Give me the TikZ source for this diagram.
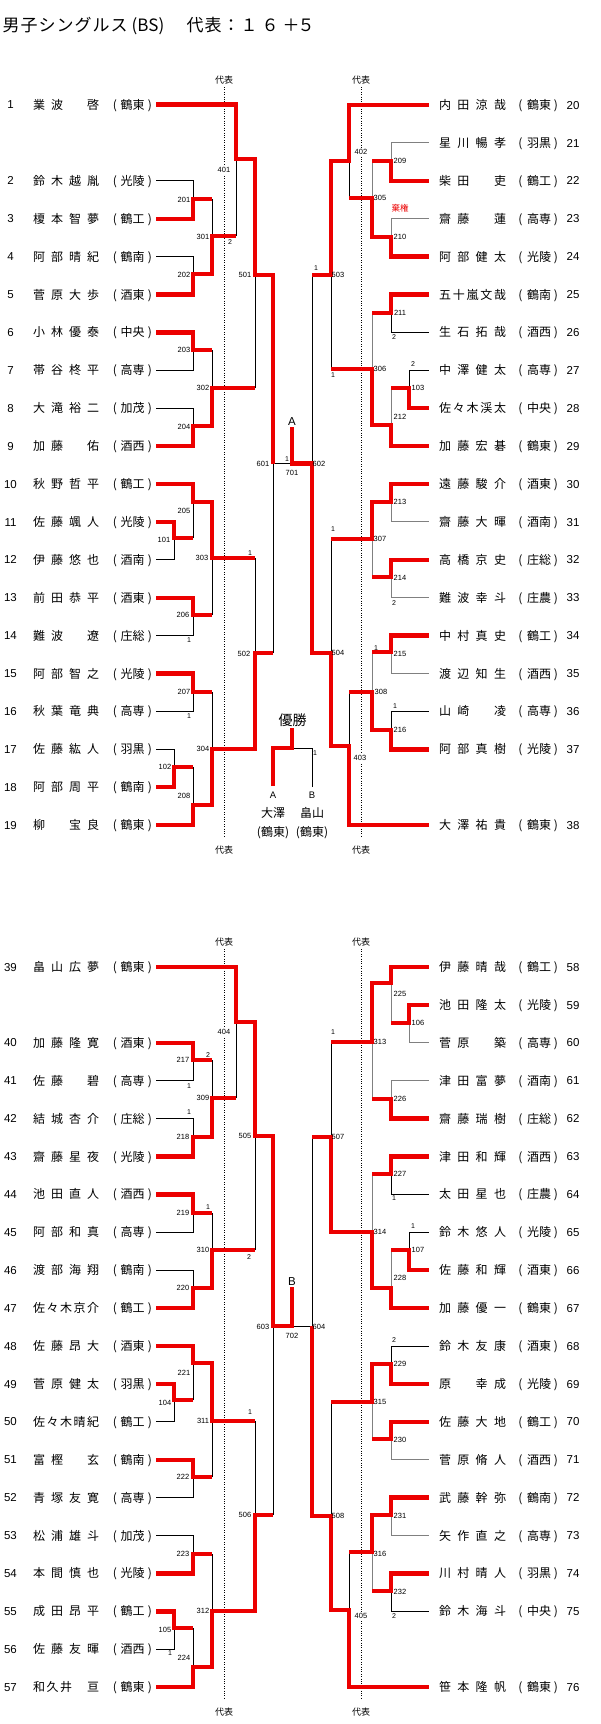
\documentclass[tikz,border=0pt]{standalone}
\usepackage{fontspec}
\setmainfont{Liberation Sans}
\newfontfamily\jp{Noto Sans CJK JP}
\definecolor{wred}{RGB}{236,0,0}
\definecolor{lgray}{RGB}{128,128,128}
\tikzset{
  win/.style={draw=wred,line width=4.4pt,line join=miter},
  ls/.style={draw=black,line width=0.9pt},
  lg/.style={draw=lgray,line width=0.9pt},
  dotv/.style={draw=black,line width=0.8pt,dash pattern=on 0.8pt off 1.6pt},
  nm/.style={font=\jp\fontsize{12}{12}\selectfont,inner sep=0pt,text height=10.56pt,text depth=1.44pt},
  pnum/.style={font=\fontsize{11.5}{12}\selectfont,inner sep=0pt,text height=8.2pt,text depth=0pt},
  mlab/.style={font=\fontsize{7.5}{8}\selectfont,inner sep=0.5pt,text height=5.4pt,text depth=0pt},
  wlab/.style={mlab,fill=white,inner sep=1.2pt},
  slab/.style={font=\fontsize{7}{8}\selectfont,inner sep=0pt,text height=5pt,text depth=0pt},
  dh/.style={font=\jp\fontsize{9}{9}\selectfont,inner sep=0pt,text height=7.9pt,text depth=1.1pt},
  ab/.style={font=\fontsize{11.5}{12}\selectfont,inner sep=0pt,text height=8.2pt,text depth=0pt},
  fab/.style={font=\fontsize{9.5}{10}\selectfont,inner sep=0pt,text height=6.8pt,text depth=0pt},
  fnm/.style={font=\jp\fontsize{12}{12}\selectfont,inner sep=0pt,text height=10.56pt,text depth=1.44pt},
  tch/.style={font=\jp\fontsize{17}{17}\selectfont,inner sep=0pt,text height=14.96pt,text depth=2.04pt},
}
\newcommand{\Lp}[5]{%
  \node[pnum] (num#1) at (10.5,#2) {#1};
  \foreach \c [count=\k] in {#4} {%
    \pgfmathsetmacro\pxx{39+(\k-1)*54/(#3-1)}%
    \node[nm] (n#1-\k) at (\pxx,#2) {\c};
  }%
  \node[nm] (lpa#1) at (115,#2) {(};
  \node[nm] (cl#1) at (132.5,#2) {#5};
  \node[nm] (rpa#1) at (150,#2) {)};
  \coordinate (p#1) at (156,#2);
}
\newcommand{\Rp}[5]{%
  \foreach \c [count=\k] in {#4} {%
    \pgfmathsetmacro\pxx{445+(\k-1)*55/(#3-1)}%
    \node[nm] (n#1-\k) at (\pxx,#2) {\c};
  }%
  \node[nm] (lpa#1) at (520.5,#2) {(};
  \node[nm] (cl#1) at (539,#2) {#5};
  \node[nm] (rpa#1) at (556,#2) {)};
  \node[pnum,anchor=west] (num#1) at (566.5,#2) {#1};
  \coordinate (p#1) at (428.6,#2);
}
\begin{document}
\begin{tikzpicture}[x=1pt,y=-1pt]
\useasboundingbox (0,0) rectangle (600,1724);
\fill[white] (0,0) rectangle (600,1724);

% ---------- title ----------
\foreach \c/\tx [count=\k] in {男/11,子/29,シ/47,ン/65,グ/83,ル/101,ス/119,代/195,表/213,：/231,１/249,６/270,＋/291,５/306} {%
  \node[tch] (t\k) at (\tx,25) {\c};
}
\node[tch] (tBS) at (148,25) {(BS)};

% ---------- dotted lines and 代表 ----------
\coordinate (dA1) at (224,87);  \coordinate (dA2) at (224,838);
\coordinate (dB1) at (361,87);  \coordinate (dB2) at (361,838);
\coordinate (dC1) at (224,949); \coordinate (dC2) at (224,1700);
\coordinate (dD1) at (361,949); \coordinate (dD2) at (361,1700);
\draw[dotv] (dA1) -- (dA2);
\draw[dotv] (dB1) -- (dB2);
\draw[dotv] (dC1) -- (dC2);
\draw[dotv] (dD1) -- (dD2);
\node[dh] (dh1) at (224,80) {代表};
\node[dh] (dh2) at (361,80) {代表};
\node[dh] (dh3) at (224,850) {代表};
\node[dh] (dh4) at (361,850) {代表};
\node[dh] (dh5) at (224,942) {代表};
\node[dh] (dh6) at (361,942) {代表};
\node[dh] (dh7) at (224,1712) {代表};
\node[dh] (dh8) at (361,1712) {代表};

% ---------- players ----------
\Lp{1}{104.5}{4}{業,波,　,啓}{鶴東}
\Lp{2}{180.8}{4}{鈴,木,越,胤}{光陵}
\Lp{3}{218.7}{4}{榎,本,智,夢}{鶴工}
\Lp{4}{256.6}{4}{阿,部,晴,紀}{鶴南}
\Lp{5}{294.5}{4}{菅,原,大,歩}{酒東}
\Lp{6}{332.4}{4}{小,林,優,泰}{中央}
\Lp{7}{370.3}{4}{帯,谷,柊,平}{高専}
\Lp{8}{408.2}{4}{大,滝,裕,二}{加茂}
\Lp{9}{446.1}{4}{加,藤,　,佑}{酒西}
\Lp{10}{484.0}{4}{秋,野,哲,平}{鶴工}
\Lp{11}{521.9}{4}{佐,藤,颯,人}{光陵}
\Lp{12}{559.8}{4}{伊,藤,悠,也}{酒南}
\Lp{13}{597.7}{4}{前,田,恭,平}{酒東}
\Lp{14}{635.6}{4}{難,波,　,遼}{庄総}
\Lp{15}{673.5}{4}{阿,部,智,之}{光陵}
\Lp{16}{711.4}{4}{秋,葉,竜,典}{高専}
\Lp{17}{749.3}{4}{佐,藤,紘,人}{羽黒}
\Lp{18}{787.2}{4}{阿,部,周,平}{鶴南}
\Lp{19}{825.1}{4}{柳,　,宝,良}{鶴東}

\Rp{20}{105.0}{4}{内,田,涼,哉}{鶴東}
\Rp{21}{142.9}{4}{星,川,暢,孝}{羽黒}
\Rp{22}{180.8}{4}{柴,田,　,吏}{鶴工}
\Rp{23}{218.7}{4}{齋,藤,　,蓮}{高専}
\Rp{24}{256.6}{4}{阿,部,健,太}{光陵}
\Rp{25}{294.5}{5}{五,十,嵐,文,哉}{鶴南}
\Rp{26}{332.4}{4}{生,石,拓,哉}{酒西}
\Rp{27}{370.3}{4}{中,澤,健,太}{高専}
\Rp{28}{408.2}{5}{佐,々,木,渓,太}{中央}
\Rp{29}{446.1}{4}{加,藤,宏,碁}{鶴東}
\Rp{30}{484.0}{4}{遠,藤,駿,介}{酒東}
\Rp{31}{521.9}{4}{齋,藤,大,暉}{酒南}
\Rp{32}{559.8}{4}{高,橋,京,史}{庄総}
\Rp{33}{597.7}{4}{難,波,幸,斗}{庄農}
\Rp{34}{635.6}{4}{中,村,真,史}{鶴工}
\Rp{35}{673.5}{4}{渡,辺,知,生}{酒西}
\Rp{36}{711.4}{4}{山,崎,　,凌}{高専}
\Rp{37}{749.3}{4}{阿,部,真,樹}{光陵}
\Rp{38}{825.1}{4}{大,澤,祐,貴}{鶴東}

\Lp{39}{967.0}{4}{畠,山,広,夢}{鶴東}
\Lp{40}{1042.8}{4}{加,藤,隆,寛}{酒東}
\Lp{41}{1080.7}{4}{佐,藤,　,碧}{高専}
\Lp{42}{1118.6}{4}{結,城,杏,介}{庄総}
\Lp{43}{1156.5}{4}{齋,藤,星,夜}{光陵}
\Lp{44}{1194.4}{4}{池,田,直,人}{酒西}
\Lp{45}{1232.3}{4}{阿,部,和,真}{高専}
\Lp{46}{1270.2}{4}{渡,部,海,翔}{鶴南}
\Lp{47}{1308.1}{5}{佐,々,木,京,介}{鶴工}
\Lp{48}{1346.0}{4}{佐,藤,昂,大}{酒東}
\Lp{49}{1383.9}{4}{菅,原,健,太}{羽黒}
\Lp{50}{1421.8}{5}{佐,々,木,晴,紀}{鶴工}
\Lp{51}{1459.7}{4}{富,樫,　,玄}{鶴南}
\Lp{52}{1497.6}{4}{青,塚,友,寛}{高専}
\Lp{53}{1535.5}{4}{松,浦,雄,斗}{加茂}
\Lp{54}{1573.4}{4}{本,間,慎,也}{光陵}
\Lp{55}{1611.3}{4}{成,田,昂,平}{鶴工}
\Lp{56}{1649.2}{4}{佐,藤,友,暉}{酒西}
\Lp{57}{1687.1}{5}{和,久,井,　,亘}{鶴東}

\Rp{58}{967.0}{4}{伊,藤,晴,哉}{鶴工}
\Rp{59}{1004.9}{4}{池,田,隆,太}{光陵}
\Rp{60}{1042.8}{4}{菅,原,　,築}{高専}
\Rp{61}{1080.7}{4}{津,田,富,夢}{酒南}
\Rp{62}{1118.6}{4}{齋,藤,瑞,樹}{庄総}
\Rp{63}{1156.5}{4}{津,田,和,輝}{酒西}
\Rp{64}{1194.4}{4}{太,田,星,也}{庄農}
\Rp{65}{1232.3}{4}{鈴,木,悠,人}{光陵}
\Rp{66}{1270.2}{4}{佐,藤,和,輝}{酒東}
\Rp{67}{1308.1}{4}{加,藤,優,一}{鶴東}
\Rp{68}{1346.0}{4}{鈴,木,友,康}{酒東}
\Rp{69}{1383.9}{4}{原,　,幸,成}{光陵}
\Rp{70}{1421.8}{4}{佐,藤,大,地}{鶴工}
\Rp{71}{1459.7}{4}{菅,原,脩,人}{酒西}
\Rp{72}{1497.6}{4}{武,藤,幹,弥}{鶴南}
\Rp{73}{1535.5}{4}{矢,作,直,之}{高専}
\Rp{74}{1573.4}{4}{川,村,晴,人}{羽黒}
\Rp{75}{1611.3}{4}{鈴,木,海,斗}{中央}
\Rp{76}{1687.1}{4}{笹,本,隆,帆}{鶴東}

% ---------- junctions: top left ----------
\coordinate (j101) at (174,538);
\coordinate (j102) at (174,767);
\coordinate (j201) at (193,199);
\coordinate (j202) at (193,274);
\coordinate (j203) at (193,350);
\coordinate (j204) at (193,426);
\coordinate (j205) at (193,502);
\coordinate (j206) at (193,615);
\coordinate (j207) at (193,692);
\coordinate (j208) at (193,805);
\coordinate (j301) at (212,236);
\coordinate (j302) at (212,388);
\coordinate (j303) at (212,558);
\coordinate (j304) at (212,749);
\coordinate (j401) at (236,159);
\coordinate (j501) at (255,275);
\coordinate (j502) at (255,653);
\coordinate (j601) at (273,463.5);
\coordinate (j701) at (292,463.5);
\coordinate (tA) at (292,427);
% top right
\coordinate (j103) at (409,388);
\coordinate (j209) at (391,161);
\coordinate (j210) at (391,237);
\coordinate (j211) at (391,313);
\coordinate (j212) at (391,425);
\coordinate (j213) at (391,502);
\coordinate (j214) at (391,577);
\coordinate (j215) at (391,652);
\coordinate (j216) at (391,730);
\coordinate (j305) at (372,198);
\coordinate (j306) at (372,369);
\coordinate (j307) at (372,539);
\coordinate (j308) at (372,692);
\coordinate (j402) at (349,161);
\coordinate (j403) at (349,746);
\coordinate (j503) at (331,275);
\coordinate (j504) at (331,653);
\coordinate (j602) at (312,463.5);
% bottom left
\coordinate (j104) at (174,1400);
\coordinate (j105) at (174,1628);
\coordinate (j217) at (193,1060);
\coordinate (j218) at (193,1137);
\coordinate (j219) at (193,1213);
\coordinate (j220) at (193,1288);
\coordinate (j221) at (193,1363);
\coordinate (j222) at (193,1477);
\coordinate (j223) at (193,1554);
\coordinate (j224) at (193,1667);
\coordinate (j309) at (212,1098);
\coordinate (j310) at (212,1250);
\coordinate (j311) at (212,1421);
\coordinate (j312) at (212,1611);
\coordinate (j404) at (236,1022);
\coordinate (j505) at (255,1136);
\coordinate (j506) at (255,1515);
\coordinate (j603) at (273,1326);
\coordinate (j702) at (292,1326);
\coordinate (tB) at (292,1287);
% bottom right
\coordinate (j106) at (409,1023);
\coordinate (j107) at (409,1250);
\coordinate (j225) at (391,983);
\coordinate (j226) at (391,1099);
\coordinate (j227) at (391,1174);
\coordinate (j228) at (391,1288);
\coordinate (j229) at (391,1364);
\coordinate (j230) at (391,1439);
\coordinate (j231) at (391,1515);
\coordinate (j232) at (391,1591);
\coordinate (j313) at (372,1042);
\coordinate (j314) at (372,1232);
\coordinate (j315) at (372,1402);
\coordinate (j316) at (372,1552);
\coordinate (j405) at (349,1610);
\coordinate (j507) at (331,1137);
\coordinate (j508) at (331,1516);
\coordinate (j604) at (312,1326);

% ---------- thin (lost) lines ----------
% top left
\draw[ls] (p2) -| (j201);
\draw[ls] (p4) -| (j202);
\draw[ls] (p7) -| (j203);
\draw[ls] (p8) -| (j204);
\draw[ls] (p12) -| (j101);
\draw[ls] (p14) -| (j206);
\draw[ls] (p16) -| (j207);
\draw[ls] (p17) -| (j102);
\draw[ls] (j201 -| j301) -- (j301);
\draw[ls] (j301 -| j401) -- (j401);
\draw[ls] (j203 -| j302) -- (j302);
\draw[ls] (j302 -| j501) -- (j501);
\draw[ls] (j101 -| j205) -- (j205);
\draw[ls] (j206 -| j303) -- (j303);
\draw[ls] (j303 -| j502) -- (j502);
\draw[ls] (j207 -| j304) -- (j304);
\draw[ls] (j102 -| j208) -- (j208);
\draw[ls] (j502 -| j601) -- (j601);
\draw[ls] (j601) -- (j701);
% top right
\draw[lg] (p21) -| (j209);
\draw[lg] (p23) -| (j210);
\draw[ls] (p26) -| (j211);
\draw[ls] (p27) -| (j103);
\draw[lg] (p31) -| (j213);
\draw[lg] (p33) -| (j214);
\draw[lg] (p35) -| (j215);
\draw[ls] (p36) -| (j216);
\draw[lg] (j209 -| j305) -- (j305);
\draw[ls] (j305 -| j402) -- (j402);
\draw[lg] (j211 -| j306) -- (j306);
\draw[lg] (j103 -| j212) -- (j212);
\draw[ls] (j306 -| j503) -- (j503);
\draw[ls] (j503 -| j602) -- (j602);
\draw[lg] (j214 -| j307) -- (j307);
\draw[ls] (j307 -| j504) -- (j504);
\draw[lg] (j215 -| j308) -- (j308);
\draw[ls] (j308 -| j403) -- (j403);
% bottom left
\draw[ls] (p41) -| (j217);
\draw[ls] (p42) -| (j218);
\draw[ls] (p45) -| (j219);
\draw[ls] (p46) -| (j220);
\draw[ls] (p50) -| (j104);
\draw[ls] (p52) -| (j222);
\draw[ls] (p53) -| (j223);
\draw[ls] (p56) -| (j105);
\draw[ls] (j217 -| j309) -- (j309);
\draw[ls] (j309 -| j404) -- (j404);
\draw[ls] (j219 -| j310) -- (j310);
\draw[ls] (j310 -| j505) -- (j505);
\draw[ls] (j104 -| j221) -- (j221);
\draw[ls] (j222 -| j311) -- (j311);
\draw[ls] (j311 -| j506) -- (j506);
\draw[ls] (j223 -| j312) -- (j312);
\draw[ls] (j105 -| j224) -- (j224);
\draw[ls] (j506 -| j603) -- (j603);
% bottom right
\draw[lg] (p60) -| (j106);
\draw[lg] (p61) -| (j226);
\draw[ls] (p64) -| (j227);
\draw[ls] (p65) -| (j107);
\draw[ls] (p68) -| (j229);
\draw[lg] (p71) -| (j230);
\draw[lg] (p73) -| (j231);
\draw[ls] (p75) -| (j232);
\draw[lg] (j106 -| j225) -- (j225);
\draw[lg] (j226 -| j313) -- (j313);
\draw[ls] (j313 -| j507) -- (j507);
\draw[lg] (j227 -| j314) -- (j314);
\draw[lg] (j107 -| j228) -- (j228);
\draw[ls] (j507 -| j604) -- (j604);
\draw[lg] (j230 -| j315) -- (j315);
\draw[ls] (j315 -| j508) -- (j508);
\draw[lg] (j232 -| j316) -- (j316);
\draw[ls] (j316 -| j405) -- (j405);
\draw[ls] (j604) -- (j702);

% ---------- red (won) lines ----------
% top left
\draw[win] (p1) -| (j401) -| (j501) -| (j601);
\draw[win] (p3) -| (j201) -- (j201 -| j301);
\draw[win] (p5) -| (j202) -| (j301) -- (j301 -| j401);
\draw[win] (p6) -| (j203) -- (j203 -| j302);
\draw[win] (p9) -| (j204) -| (j302) -- (j302 -| j501);
\draw[win] (p10) -| (j205) -| (j303) -- (j303 -| j502);
\draw[win] (p11) -| (j101) -- (j101 -| j205);
\draw[win] (p13) -| (j206) -- (j206 -| j303);
\draw[win] (p15) -| (j207) -- (j207 -| j304);
\draw[win] (p18) -| (j102) -- (j102 -| j208);
\draw[win] (p19) -| (j208) -| (j304) -| (j502) -- (j502 -| j601);
% top right
\draw[win] (p20) -| (j402) -| (j503) -- (j503 -| j602);
\draw[win] (p22) -| (j209) -- (j209 -| j305);
\draw[win] (p24) -| (j210) -| (j305) -- (j305 -| j402);
\draw[win] (p25) -| (j211) -- (j211 -| j306);
\draw[win] (p28) -| (j103) -- (j103 -| j212);
\draw[win] (p29) -| (j212) -| (j306) -- (j306 -| j503);
\draw[win] (p30) -| (j213) -| (j307) -- (j307 -| j504);
\draw[win] (p32) -| (j214) -- (j214 -| j307);
\draw[win] (p34) -| (j215) -- (j215 -| j308);
\draw[win] (p37) -| (j216) -| (j308) -- (j308 -| j403);
\draw[win] (p38) -| (j403) -| (j504) -| (j602) -| (tA);
% bottom left
\draw[win] (p39) -| (j404) -| (j505) -| (j603) -| (tB);
\draw[win] (p40) -| (j217) -- (j217 -| j309);
\draw[win] (p43) -| (j218) -| (j309) -- (j309 -| j404);
\draw[win] (p44) -| (j219) -- (j219 -| j310);
\draw[win] (p47) -| (j220) -| (j310) -- (j310 -| j505);
\draw[win] (p48) -| (j221) -| (j311) -- (j311 -| j506);
\draw[win] (p49) -| (j104) -- (j104 -| j221);
\draw[win] (p51) -| (j222) -- (j222 -| j311);
\draw[win] (p54) -| (j223) -- (j223 -| j312);
\draw[win] (p55) -| (j105) -- (j105 -| j224);
\draw[win] (p57) -| (j224) -| (j312) -| (j506) -- (j506 -| j603);
% bottom right
\draw[win] (p58) -| (j225) -| (j313) -- (j313 -| j507);
\draw[win] (p59) -| (j106) -- (j106 -| j225);
\draw[win] (p62) -| (j226) -- (j226 -| j313);
\draw[win] (p63) -| (j227) -- (j227 -| j314);
\draw[win] (p66) -| (j107) -- (j107 -| j228);
\draw[win] (p67) -| (j228) -| (j314) -| (j507) -- (j507 -| j604);
\draw[win] (p69) -| (j229) -| (j315) -- (j315 -| j508);
\draw[win] (p70) -| (j230) -- (j230 -| j315);
\draw[win] (p72) -| (j231) -| (j316) -- (j316 -| j405);
\draw[win] (p74) -| (j232) -- (j232 -| j316);
\draw[win] (p76) -| (j405) -| (j508) -| (j604);

% ---------- match labels ----------
\node[mlab] (l201) at (184,200) {201};
\node[mlab] (l202) at (184,275) {202};
\node[mlab] (l301) at (203,237) {301};
\node[wlab] (l401) at (224,170) {401};
\node[mlab] (l203) at (184,350) {203};
\node[mlab] (l204) at (184,427) {204};
\node[mlab] (l302) at (203,388) {302};
\node[mlab] (l501) at (245,275) {501};
\node[mlab] (l205) at (184,511) {205};
\node[mlab] (l101) at (164,540) {101};
\node[mlab] (l206) at (183,615) {206};
\node[mlab] (l303) at (202,558) {303};
\node[mlab] (l207) at (184,692) {207};
\node[mlab] (l102) at (165,767) {102};
\node[mlab] (l208) at (184,796) {208};
\node[mlab] (l304) at (203,749) {304};
\node[mlab] (l502) at (244,654) {502};
\node[mlab] (l601) at (263,464) {601};
\node[mlab] (l701) at (292,473) {701};

\node[mlab] (l209) at (400,161) {209};
\node[mlab] (l210) at (400,237) {210};
\node[mlab] (l305) at (380,198) {305};
\node[wlab] (l402) at (361,152) {402};
\node[mlab] (l211) at (400,313) {211};
\node[mlab] (l103) at (418,388) {103};
\node[mlab] (l212) at (400,417) {212};
\node[mlab] (l306) at (380,369) {306};
\node[mlab] (l503) at (338,275) {503};
\node[mlab] (l213) at (400,502) {213};
\node[mlab] (l214) at (400,578) {214};
\node[mlab] (l307) at (380,539) {307};
\node[mlab] (l215) at (400,654) {215};
\node[mlab] (l216) at (400,730) {216};
\node[mlab] (l308) at (381,692) {308};
\node[wlab] (l403) at (360,758) {403};
\node[mlab] (l504) at (338,653) {504};
\node[mlab] (l602) at (319,464) {602};

\node[wlab] (l404) at (224,1032) {404};
\node[mlab] (l217) at (183,1060) {217};
\node[mlab] (l218) at (183,1137) {218};
\node[mlab] (l309) at (203,1098) {309};
\node[mlab] (l505) at (245,1136) {505};
\node[mlab] (l219) at (183,1213) {219};
\node[mlab] (l220) at (183,1288) {220};
\node[mlab] (l310) at (203,1250) {310};
\node[mlab] (l221) at (184,1373) {221};
\node[mlab] (l104) at (165,1403) {104};
\node[mlab] (l311) at (203,1421) {311};
\node[mlab] (l222) at (183,1477) {222};
\node[mlab] (l223) at (183,1554) {223};
\node[mlab] (l105) at (165,1630) {105};
\node[mlab] (l224) at (184,1658) {224};
\node[mlab] (l312) at (203,1611) {312};
\node[mlab] (l506) at (245,1515) {506};
\node[mlab] (l603) at (263,1327) {603};
\node[mlab] (l702) at (292,1336) {702};

\node[mlab] (l225) at (400,994) {225};
\node[mlab] (l106) at (418,1023) {106};
\node[mlab] (l226) at (400,1099) {226};
\node[mlab] (l313) at (380,1042) {313};
\node[mlab] (l507) at (338,1137) {507};
\node[mlab] (l227) at (400,1174) {227};
\node[mlab] (l107) at (418,1250) {107};
\node[mlab] (l228) at (400,1278) {228};
\node[mlab] (l314) at (380,1232) {314};
\node[mlab] (l229) at (400,1364) {229};
\node[mlab] (l230) at (400,1440) {230};
\node[mlab] (l315) at (380,1402) {315};
\node[mlab] (l231) at (400,1516) {231};
\node[mlab] (l232) at (400,1592) {232};
\node[mlab] (l316) at (380,1554) {316};
\node[wlab] (l405) at (361,1616) {405};
\node[mlab] (l508) at (338,1516) {508};
\node[mlab] (l604) at (319,1327) {604};

% ---------- scores ----------
\node[slab] (s1) at (230,242) {2};
\node[slab] (s2) at (189,640) {1};
\node[slab] (s3) at (189,716) {1};
\node[slab] (s4) at (250,553) {1};
\node[slab] (s5) at (287,459) {1};
\node[slab] (s6) at (316,268) {1};
\node[slab] (s7) at (394,337) {2};
\node[slab] (s8) at (413,364) {2};
\node[slab] (s9) at (333,375) {1};
\node[slab] (s10) at (333,529) {1};
\node[slab] (s11) at (394,603) {2};
\node[slab] (s12) at (376,648) {1};
\node[slab] (s13) at (395,706) {1};
\node[slab] (s14) at (315,753) {1};
\node[slab] (s15) at (208,1055) {2};
\node[slab] (s16) at (189,1086) {1};
\node[slab] (s17) at (189,1112) {1};
\node[slab] (s18) at (208,1207) {1};
\node[slab] (s19) at (249,1257) {2};
\node[slab] (s20) at (250,1412) {1};
\node[slab] (s21) at (170,1653) {1};
\node[slab] (s22) at (333,1032) {1};
\node[slab] (s23) at (394,1198) {1};
\node[slab] (s24) at (413,1226) {1};
\node[slab] (s25) at (394,1340) {2};
\node[slab] (s26) at (394,1616) {2};

\node[font=\jp\fontsize{8.5}{9}\selectfont,text=wred,inner sep=0pt] (kiken) at (400,208) {棄権};

% ---------- A / B ----------
\node[ab] (labA) at (292,421) {A};
\node[ab] (labB) at (292,1281) {B};

% ---------- final ----------
\coordinate (fA) at (273,786);
\coordinate (fB) at (312,787);
\coordinate (fJ) at (292,748);
\coordinate (fT) at (292,728);
\draw[ls] (fB) |- (fJ);
\draw[win] (fA) |- (fJ) -- (fT);
\node[font=\jp\fontsize{14}{14}\selectfont,inner sep=0pt] (yusho) at (292.5,720) {優勝};
\node[fab] (fa) at (273,795) {A};
\node[fab] (fb) at (312,795) {B};
\node[fnm] (fna) at (273,813) {大澤};
\node[fnm] (fnb) at (312,813) {畠山};
\node[fnm] (fca) at (273,832) {(鶴東)};
\node[fnm] (fcb) at (312,832) {(鶴東)};
\end{tikzpicture}
\end{document}
